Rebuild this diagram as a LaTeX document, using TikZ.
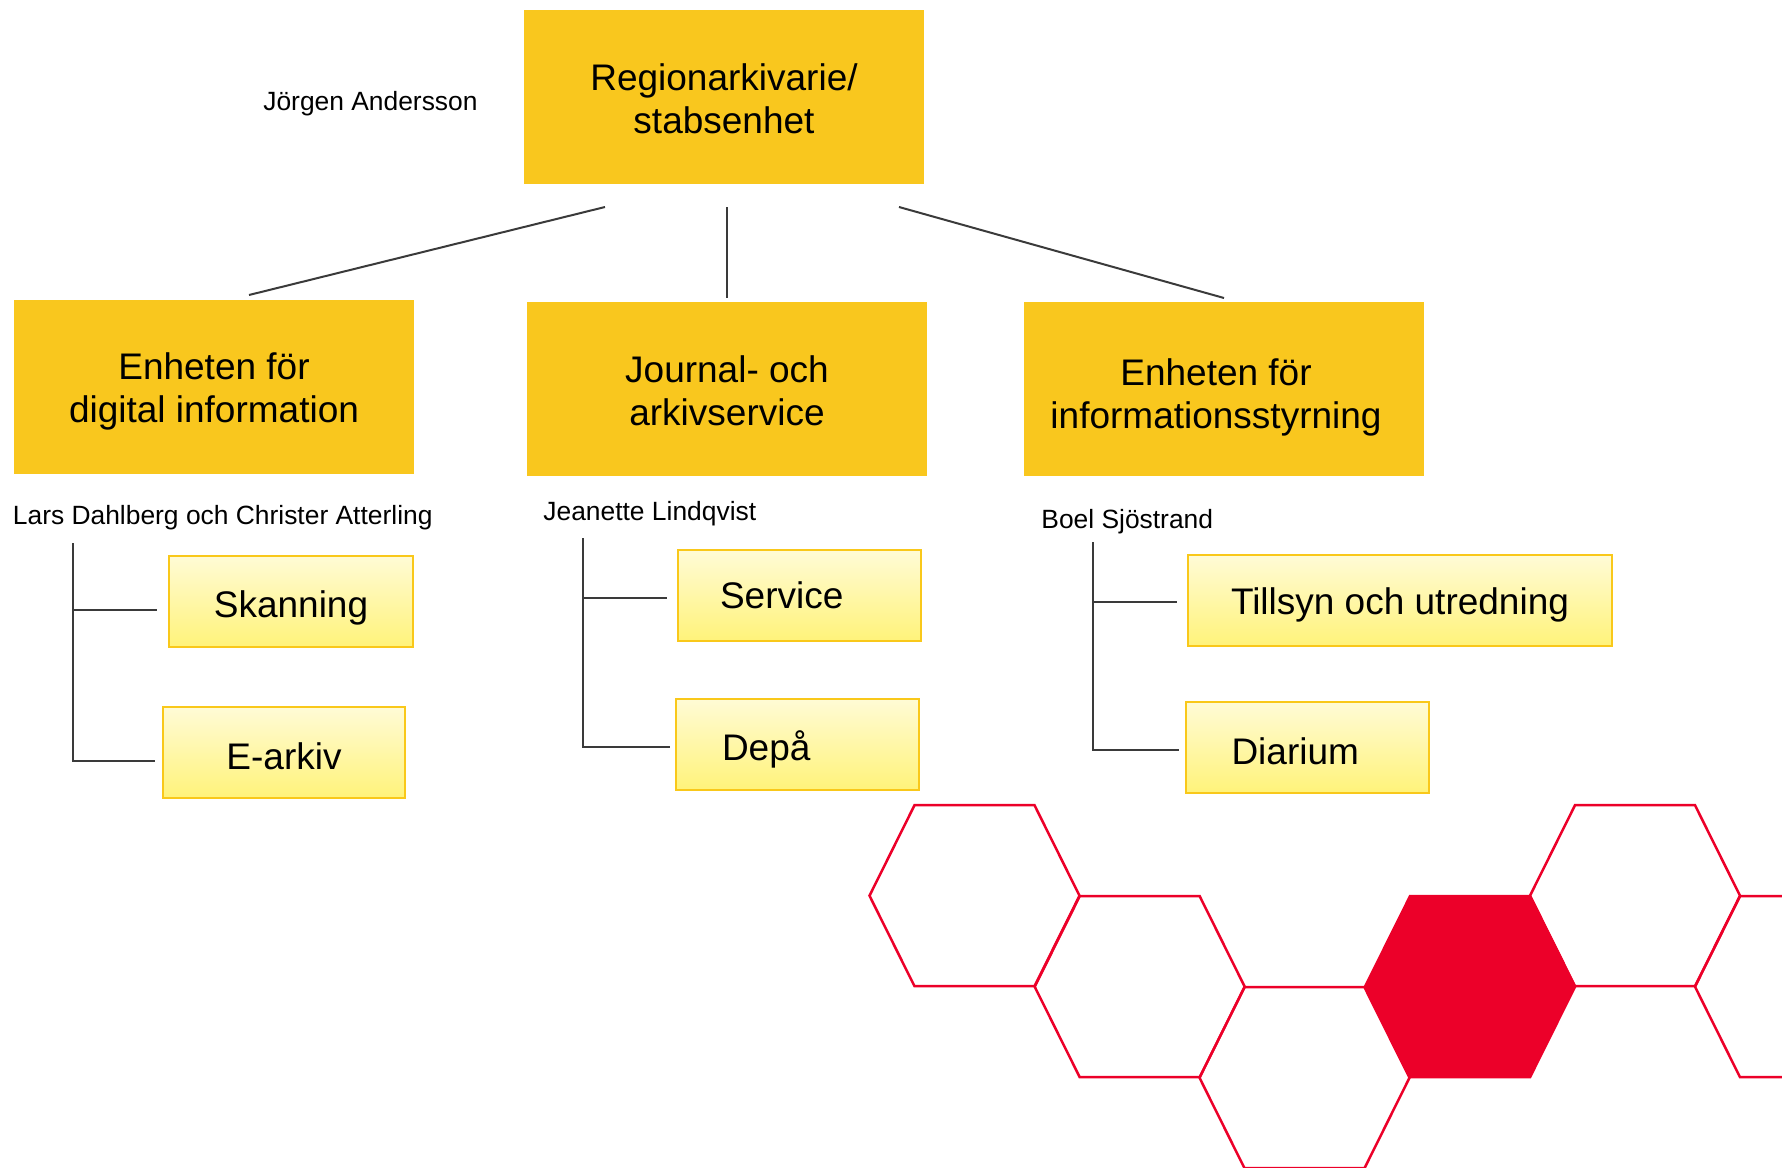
\documentclass[tikz,border=0pt]{standalone}
\usepackage{fontspec}
\setmainfont{Liberation Sans}
\definecolor{unitgold}{HTML}{F9C71E}
\definecolor{subtop}{HTML}{FFFBD6}
\definecolor{subbottom}{HTML}{FFF37A}
\definecolor{subedge}{HTML}{F9C81A}
\definecolor{hexred}{HTML}{EC0029}
\definecolor{linegray}{HTML}{3A3A3A}
\begin{document}
\begin{tikzpicture}[x=0.5pt, y=-0.5pt,
    unit/.style={fill=unitgold, minimum width=200pt, minimum height=87pt, inner sep=0pt, text depth=0pt, align=center, font=\fontsize{18.5}{21.5}\selectfont},
    subunit/.style={draw=subedge, line width=1pt, top color=subtop, bottom color=subbottom, minimum height=45.5pt, inner sep=0pt, text height=16.5pt, text depth=0pt, align=center, font=\fontsize{18.5}{21.5}\selectfont},
    subleft/.style={subunit, inner xsep=23pt, text width=75.5pt, align=left},
    person/.style={inner sep=0pt, font=\fontsize{13.2}{15}\selectfont},
    link/.style={linegray, line width=1pt},
    hex/.style={hexred, line width=1.25pt, line join=miter}]
        \useasboundingbox (0,0) rectangle (1782,1167);

        % Define the units
        \node[unit, text height=36pt] (top) at (724,97) {Regionarkivarie/\\stabsenhet};
        \node[unit, text height=35.1pt] (digital) at (214,387) {Enheten för\\digital information};
        \node[unit, text height=36.6pt] (journal) at (727,389) {Journal- och\\arkivservice};
        \node[unit, text height=39.1pt] (styrning) at (1224,389) {Enheten för\hspace*{8pt}\\informationsstyrning\hspace*{8pt}};

        % Names of the heads
        \node[person, anchor=east] (jorgen) at (478,103.5) {Jörgen Andersson};
        \node[person, anchor=west] (lars) at (12.5,518) {Lars Dahlberg och Christer Atterling};
        \node[person, anchor=west] (jeanette) at (543,513.5) {Jeanette Lindqvist};
        \node[person, anchor=west] (boel) at (1041,521.5) {Boel Sjöstrand};

        % Draw lines from the top unit
        \coordinate (topL) at (605,207);
        \coordinate (topM) at (727,207);
        \coordinate (topR) at (899,207);
        \coordinate (endL) at (249,295);
        \coordinate (endM) at (727,298);
        \coordinate (endR) at (1224,298);
        \draw[link] (topL) -- (endL);
        \draw[link] (topM) -- (endM);
        \draw[link] (topR) -- (endR);

        % Define the sub units
        \node[subunit, minimum width=122pt] (skanning) at (291,601) {Skanning};
        \node[subunit, minimum width=121pt] (earkiv) at (284,752.5) {E-arkiv};
        \node[subleft, inner xsep=21pt, text width=79.5pt, text height=13.1pt] (service) at (799.5,595.5) {Service};
        \node[subleft] (depa) at (797.5,744) {Depå};
        \node[subunit, minimum width=212pt, text height=14.2pt] (tillsyn) at (1400,600.5) {Tillsyn och utredning};
        \node[subleft] (diarium) at (1307,747.5) {Diarium};

        % Draw the brackets
        \coordinate (spineA) at (73,543);
        \coordinate (spineB) at (583,538);
        \coordinate (spineC) at (1093,542);
        \draw[link] (spineA) |- ([xshift=-3.5pt,yshift=-4pt]earkiv.west);
        \draw[link] (spineA |- skanning.west) ++(0,9) -- ([xshift=-5.5pt,yshift=-4.5pt]skanning.west);
        \draw[link] (spineB) |- ([xshift=-2.5pt,yshift=-1.5pt]depa.west);
        \draw[link] (spineB |- service.west) ++(0,2.5) -- ([xshift=-5pt,yshift=-1.25pt]service.west);
        \draw[link] (spineC) |- ([xshift=-3pt,yshift=-1.25pt]diarium.west);
        \draw[link] (spineC |- tillsyn.west) ++(0,1) -- ([xshift=-5pt,yshift=-0.5pt]tillsyn.west);

        % Draw the hexagons
        \begin{scope}
            \clip (0,0) rectangle (1782,1167);
            \foreach \cx/\cy in {974.5/895.7, 1139.7/986.7, 1304.5/1077.7, 1635/895.7, 1800/986.7}
                \draw[hex] (\cx-105,\cy) -- (\cx-60,\cy-90.5) -- (\cx+60,\cy-90.5) -- (\cx+105,\cy) -- (\cx+60,\cy+90.5) -- (\cx-60,\cy+90.5) -- cycle;
            \filldraw[hex, fill=hexred] (1365,986.7) -- (1410,896.2) -- (1530,896.2) -- (1575,986.7) -- (1530,1077.2) -- (1410,1077.2) -- cycle;
        \end{scope}
    \end{tikzpicture}
\end{document}
